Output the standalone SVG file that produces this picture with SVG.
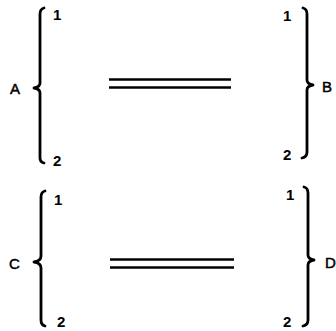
<svg xmlns="http://www.w3.org/2000/svg" width="336" height="331" viewBox="0 0 336 331">
<style>
.br{fill:none;stroke:#000;stroke-width:2.8;stroke-linecap:round;stroke-linejoin:round}
.eq{stroke:#000;stroke-width:2.4}
text{font-family:"Liberation Sans",Arial,sans-serif;font-size:15px;font-weight:bold;fill:#000}
.lab{font-size:15px;font-weight:normal;stroke:#000;stroke-width:0.5}
</style>
<rect width="336" height="331" fill="#fff"/>
<g id="A">
<path class="br" d="M44,8 Q40,9 40,14 L40,83 Q40,87 34,88 Q40,89 40,93 L40,158 Q40,162 44,163"/>
<text class="lab" x="10" y="94">A</text>
<text x="53" y="20">1</text>
<text x="53" y="166">2</text>
</g>
<g id="B">
<path class="br" d="M303,8 Q307,9 307,14 L307,80 Q307,84 313,85 Q307,86 307,90 L307,152 Q307,157 302,158"/>
<text class="lab" x="322" y="92">B</text>
<text x="283" y="21">1</text>
<text x="283" y="160">2</text>
</g>
<g id="C">
<path class="br" d="M45,191 Q41,192 41,197 L41,256 Q41,261 34,262 Q41,263 41,268 L41,320 Q41,325 45,326"/>
<text class="lab" x="9" y="269">C</text>
<text x="54" y="205">1</text>
<text x="57" y="327">2</text>
</g>
<g id="D">
<path class="br" d="M304,187 Q308,188 308,193 L308,255 Q308,259 314,260 Q308,261 308,265 L308,320 Q308,325 303,326"/>
<text class="lab" x="325" y="268">D</text>
<text x="286" y="200">1</text>
<text x="283" y="327">2</text>
</g>
<g id="connectors">
<line class="eq" x1="109" y1="79.5" x2="231" y2="79.5"/>
<line class="eq" x1="109" y1="87.5" x2="231" y2="87.5"/>
<line class="eq" x1="110" y1="259.5" x2="234" y2="259.5"/>
<line class="eq" x1="110" y1="267.5" x2="234" y2="267.5"/>
</g>
</svg>
